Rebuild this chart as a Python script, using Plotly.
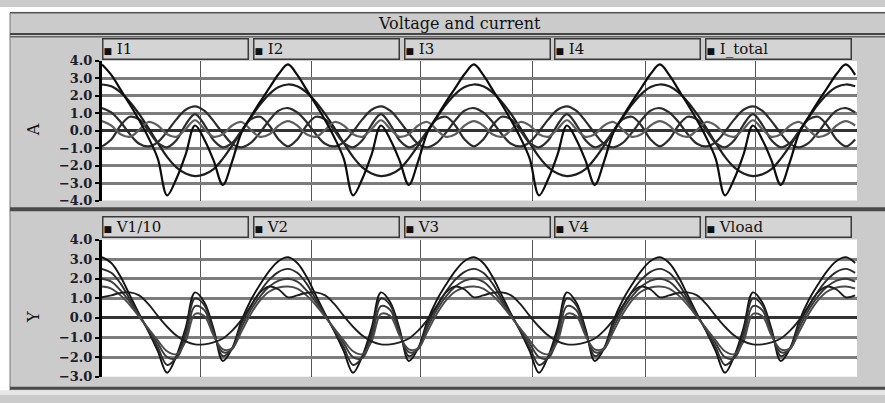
import plotly.graph_objects as go

W_PX, H_PX = 885, 403

# time axis (ms), one sample per ms
t_ms = [0, 1, 2, 3, 4, 5, 6, 7, 8, 9, 10, 11, 12, 13, 14, 15, 16, 17, 18, 19,
        20, 21, 22, 23, 24, 25, 26, 27, 28, 29, 30, 31, 32, 33, 34, 35, 36, 37, 38, 39,
        40, 41, 42, 43, 44, 45, 46, 47, 48, 49, 50, 51, 52, 53, 54, 55, 56, 57, 58, 59,
        60, 61, 62, 63, 64, 65, 66, 67, 68, 69, 70, 71, 72, 73, 74, 75, 76, 77, 78, 79,
        80, 81]

# ---- currents (A) ----
i_1 = [2.65, 2.55, 2.2, 1.65, 0.95, 0.15, -0.7, -1.5, -2.1, -2.45, -2.6, -2.5, -2.2, -1.6, -0.85, -0.05, 0.75, 1.5, 2.1, 2.5,
       2.65, 2.55, 2.2, 1.65, 0.95, 0.15, -0.7, -1.5, -2.1, -2.45, -2.6, -2.5, -2.2, -1.6, -0.85, -0.05, 0.75, 1.5, 2.1, 2.5,
       2.65, 2.55, 2.2, 1.65, 0.95, 0.15, -0.7, -1.5, -2.1, -2.45, -2.6, -2.5, -2.2, -1.6, -0.85, -0.05, 0.75, 1.5, 2.1, 2.5,
       2.65, 2.55, 2.2, 1.65, 0.95, 0.15, -0.7, -1.5, -2.1, -2.45, -2.6, -2.5, -2.2, -1.6, -0.85, -0.05, 0.75, 1.5, 2.1, 2.5,
       2.65, 2.55]
i_2 = [1.3, 1.05, 0.5, -0.2, -0.75, -0.9, -0.65, -0.05, 0.65, 1.2, 1.4, 1.15, 0.55, -0.15, -0.75, -0.95, -0.7, -0.1, 0.6, 1.15,
       1.3, 1.05, 0.5, -0.2, -0.75, -0.9, -0.65, -0.05, 0.65, 1.2, 1.4, 1.15, 0.55, -0.15, -0.75, -0.95, -0.7, -0.1, 0.6, 1.15,
       1.3, 1.05, 0.5, -0.2, -0.75, -0.9, -0.65, -0.05, 0.65, 1.2, 1.4, 1.15, 0.55, -0.15, -0.75, -0.95, -0.7, -0.1, 0.6, 1.15,
       1.3, 1.05, 0.5, -0.2, -0.75, -0.9, -0.65, -0.05, 0.65, 1.2, 1.4, 1.15, 0.55, -0.15, -0.75, -0.95, -0.7, -0.1, 0.6, 1.15,
       1.3, 1.05]
i_3 = [-0.9, -0.5, 0.3, 0.8, 0.65, 0.0, -0.7, -0.95, -0.55, 0.35, 0.95, 0.35, -0.55, -0.95, -0.7, 0.0, 0.65, 0.8, 0.3, -0.5,
       -0.9, -0.5, 0.3, 0.8, 0.65, 0.0, -0.7, -0.95, -0.55, 0.35, 0.95, 0.35, -0.55, -0.95, -0.7, 0.0, 0.65, 0.8, 0.3, -0.5,
       -0.9, -0.5, 0.3, 0.8, 0.65, 0.0, -0.7, -0.95, -0.55, 0.35, 0.95, 0.35, -0.55, -0.95, -0.7, 0.0, 0.65, 0.8, 0.3, -0.5,
       -0.9, -0.5, 0.3, 0.8, 0.65, 0.0, -0.7, -0.95, -0.55, 0.35, 0.95, 0.35, -0.55, -0.95, -0.7, 0.0, 0.65, 0.8, 0.3, -0.5,
       -0.9, -0.5]
i_4 = [0.55, 0.3, -0.2, -0.35, 0.05, 0.5, 0.3, -0.2, -0.35, 0.1, 0.6, 0.1, -0.35, -0.2, 0.3, 0.5, 0.05, -0.35, -0.2, 0.3,
       0.55, 0.3, -0.2, -0.35, 0.05, 0.5, 0.3, -0.2, -0.35, 0.1, 0.6, 0.1, -0.35, -0.2, 0.3, 0.5, 0.05, -0.35, -0.2, 0.3,
       0.55, 0.3, -0.2, -0.35, 0.05, 0.5, 0.3, -0.2, -0.35, 0.1, 0.6, 0.1, -0.35, -0.2, 0.3, 0.5, 0.05, -0.35, -0.2, 0.3,
       0.55, 0.3, -0.2, -0.35, 0.05, 0.5, 0.3, -0.2, -0.35, 0.1, 0.6, 0.1, -0.35, -0.2, 0.3, 0.5, 0.05, -0.35, -0.2, 0.3,
       0.55, 0.3]
i_total = [3.8, 3.2, 2.35, 1.5, 0.6, -0.4, -1.6, -3.7, -2.75, -1.35, 0.3, -0.5, -1.7, -3.1, -1.75, -0.1, 0.8, 1.65, 2.45, 3.25,
           3.8, 3.2, 2.35, 1.5, 0.6, -0.4, -1.6, -3.7, -2.75, -1.35, 0.3, -0.5, -1.7, -3.1, -1.75, -0.1, 0.8, 1.65, 2.45, 3.25,
           3.8, 3.2, 2.35, 1.5, 0.6, -0.4, -1.6, -3.7, -2.75, -1.35, 0.3, -0.5, -1.7, -3.1, -1.75, -0.1, 0.8, 1.65, 2.45, 3.25,
           3.8, 3.2, 2.35, 1.5, 0.6, -0.4, -1.6, -3.7, -2.75, -1.35, 0.3, -0.5, -1.7, -3.1, -1.75, -0.1, 0.8, 1.65, 2.45, 3.25,
           3.8, 3.2]

# ---- voltages ----
v_1_10 = [3.1, 2.8, 2.1, 1.15, 0.2, -0.7, -1.7, -2.8, -1.95, -0.5, 1.3, 0.8, -0.55, -2.2, -1.55, -0.15, 0.9, 1.7, 2.4, 2.9,
          3.1, 2.8, 2.1, 1.15, 0.2, -0.7, -1.7, -2.8, -1.95, -0.5, 1.3, 0.8, -0.55, -2.2, -1.55, -0.15, 0.9, 1.7, 2.4, 2.9,
          3.1, 2.8, 2.1, 1.15, 0.2, -0.7, -1.7, -2.8, -1.95, -0.5, 1.3, 0.8, -0.55, -2.2, -1.55, -0.15, 0.9, 1.7, 2.4, 2.9,
          3.1, 2.8, 2.1, 1.15, 0.2, -0.7, -1.7, -2.8, -1.95, -0.5, 1.3, 0.8, -0.55, -2.2, -1.55, -0.15, 0.9, 1.7, 2.4, 2.9,
          3.1, 2.8]
v_2 = [2.5, 2.3, 1.75, 0.95, 0.15, -0.65, -1.5, -2.4, -2.0, -0.75, 1.0, 0.65, -0.7, -1.95, -1.55, -0.3, 0.6, 1.35, 1.95, 2.35,
       2.5, 2.3, 1.75, 0.95, 0.15, -0.65, -1.5, -2.4, -2.0, -0.75, 1.0, 0.65, -0.7, -1.95, -1.55, -0.3, 0.6, 1.35, 1.95, 2.35,
       2.5, 2.3, 1.75, 0.95, 0.15, -0.65, -1.5, -2.4, -2.0, -0.75, 1.0, 0.65, -0.7, -1.95, -1.55, -0.3, 0.6, 1.35, 1.95, 2.35,
       2.5, 2.3, 1.75, 0.95, 0.15, -0.65, -1.5, -2.4, -2.0, -0.75, 1.0, 0.65, -0.7, -1.95, -1.55, -0.3, 0.6, 1.35, 1.95, 2.35,
       2.5, 2.3]
v_3 = [2.0, 1.85, 1.4, 0.8, 0.1, -0.6, -1.3, -2.0, -2.05, -1.0, 0.6, 0.4, -0.8, -1.75, -1.6, -0.5, 0.4, 1.1, 1.6, 1.9,
       2.0, 1.85, 1.4, 0.8, 0.1, -0.6, -1.3, -2.0, -2.05, -1.0, 0.6, 0.4, -0.8, -1.75, -1.6, -0.5, 0.4, 1.1, 1.6, 1.9,
       2.0, 1.85, 1.4, 0.8, 0.1, -0.6, -1.3, -2.0, -2.05, -1.0, 0.6, 0.4, -0.8, -1.75, -1.6, -0.5, 0.4, 1.1, 1.6, 1.9,
       2.0, 1.85, 1.4, 0.8, 0.1, -0.6, -1.3, -2.0, -2.05, -1.0, 0.6, 0.4, -0.8, -1.75, -1.6, -0.5, 0.4, 1.1, 1.6, 1.9,
       2.0, 1.85]
v_4 = [1.6, 1.5, 1.15, 0.65, 0.05, -0.55, -1.15, -1.7, -1.85, -1.2, 0.2, 0.1, -0.9, -1.6, -1.55, -0.7, 0.2, 0.9, 1.35, 1.55,
       1.6, 1.5, 1.15, 0.65, 0.05, -0.55, -1.15, -1.7, -1.85, -1.2, 0.2, 0.1, -0.9, -1.6, -1.55, -0.7, 0.2, 0.9, 1.35, 1.55,
       1.6, 1.5, 1.15, 0.65, 0.05, -0.55, -1.15, -1.7, -1.85, -1.2, 0.2, 0.1, -0.9, -1.6, -1.55, -0.7, 0.2, 0.9, 1.35, 1.55,
       1.6, 1.5, 1.15, 0.65, 0.05, -0.55, -1.15, -1.7, -1.85, -1.2, 0.2, 0.1, -0.9, -1.6, -1.55, -0.7, 0.2, 0.9, 1.35, 1.55,
       1.6, 1.5]
v_load = [1.05, 1.15, 1.28, 1.3, 1.15, 0.7, 0.1, -0.45, -0.9, -1.2, -1.35, -1.35, -1.25, -1.05, -0.65, -0.1, 0.6, 1.3, 1.6, 1.45,
          1.05, 1.15, 1.28, 1.3, 1.15, 0.7, 0.1, -0.45, -0.9, -1.2, -1.35, -1.35, -1.25, -1.05, -0.65, -0.1, 0.6, 1.3, 1.6, 1.45,
          1.05, 1.15, 1.28, 1.3, 1.15, 0.7, 0.1, -0.45, -0.9, -1.2, -1.35, -1.35, -1.25, -1.05, -0.65, -0.1, 0.6, 1.3, 1.6, 1.45,
          1.05, 1.15, 1.28, 1.3, 1.15, 0.7, 0.1, -0.45, -0.9, -1.2, -1.35, -1.35, -1.25, -1.05, -0.65, -0.1, 0.6, 1.3, 1.6, 1.45,
          1.05, 1.15]

current_names = ["I1", "I2", "I3", "I4", "I_total"]
voltage_names = ["V1/10", "V2", "V3", "V4", "Vload"]
current_series = [i_1, i_2, i_3, i_4, i_total]
voltage_series = [v_1_10, v_2, v_3, v_4, v_load]
current_ticks = [-4, -3, -2, -1, 0, 1, 2, 3, 4]
voltage_ticks = [-3, -2, -1, 0, 1, 2, 3, 4]
x_grid = [10.6, 22.5, 34.3, 46.3, 58.4, 70.3]
title_text = "Voltage and current"

# ---- styling ----
FONT = "DejaVu Serif"
line_colors_top = ["#1e1e1e", "#2c2c2c", "#2c2c2c", "#5e5e5e", "#0d0d0d"]
line_colors_bot = ["#141414", "#2c2c2c", "#3a3a3a", "#4a4a4a", "#1e1e1e"]


def X(px):
    return px / W_PX


def Y(py):
    return 1 - py / H_PX


fig = go.Figure()
for name, ys, col in zip(current_names, current_series, line_colors_top):
    fig.add_trace(go.Scatter(x=t_ms, y=ys, name=name, mode="lines",
                             line=dict(color=col, width=2.2, shape="spline", smoothing=1),
                             xaxis="x", yaxis="y", showlegend=False))
for name, ys, col in zip(voltage_names, voltage_series, line_colors_bot):
    fig.add_trace(go.Scatter(x=t_ms, y=ys, name=name, mode="lines",
                             line=dict(color=col, width=1.9, shape="spline", smoothing=1),
                             xaxis="x2", yaxis="y2", showlegend=False))

xdom = [X(102), X(857)]
xcommon = dict(range=[0, 81.2], domain=xdom, tickvals=x_grid, showticklabels=False,
               ticks="", showgrid=True, gridcolor="#555555", gridwidth=1.2,
               zeroline=False, showline=False, fixedrange=True)
ycommon = dict(showgrid=True, gridcolor="#7c7c7c", gridwidth=2.5,
               zeroline=True, zerolinecolor="#333333", zerolinewidth=2.5,
               showline=True, linecolor="#000000", linewidth=3,
               ticks="outside", ticklen=4, tickwidth=2, tickcolor="#000000",
               tickformat=".1f",
               tickfont=dict(family=FONT, size=13, color="#1c1c2a", weight="bold"))

shapes = [
    # white outer strips
    dict(type="rect", xref="paper", yref="paper", x0=0, x1=X(10), y0=0, y1=1,
         fillcolor="white", line=dict(width=0), layer="below"),
    dict(type="rect", xref="paper", yref="paper", x0=0, x1=1, y0=Y(5), y1=1,
         fillcolor="white", line=dict(width=0), layer="below"),
    dict(type="rect", xref="paper", yref="paper", x0=0, x1=1, y0=0, y1=Y(398),
         fillcolor="#e6e6e6", line=dict(width=0), layer="below"),
    # frame lines
    dict(type="line", xref="paper", yref="paper", x0=X(10), x1=1, y0=Y(6), y1=Y(6),
         line=dict(color="#555555", width=1.5)),
    dict(type="line", xref="paper", yref="paper", x0=X(10), x1=X(10), y0=Y(398), y1=Y(6),
         line=dict(color="#777777", width=1)),
    dict(type="line", xref="paper", yref="paper", x0=X(10), x1=1, y0=Y(28), y1=Y(28),
         line=dict(color="#444444", width=2)),
    dict(type="line", xref="paper", yref="paper", x0=X(10), x1=1, y0=Y(31), y1=Y(31),
         line=dict(color="#666666", width=1.5)),
    dict(type="line", xref="paper", yref="paper", x0=X(10), x1=1, y0=Y(210), y1=Y(210),
         line=dict(color="#4a4a4a", width=4)),
    dict(type="line", xref="paper", yref="paper", x0=X(10), x1=1, y0=Y(396), y1=Y(396),
         line=dict(color="#4a4a4a", width=3)),
]

annotations = [
    dict(text=title_text, xref="paper", yref="paper", x=X(459), y=Y(17),
         xanchor="center", yanchor="middle", showarrow=False,
         font=dict(family=FONT, size=16, color="#111111")),
    dict(text="A", xref="paper", yref="paper", x=X(33), y=Y(128), textangle=-90,
         xanchor="center", yanchor="middle", showarrow=False,
         font=dict(family=FONT, size=16, color="#111111")),
    dict(text="Y", xref="paper", yref="paper", x=X(33), y=Y(322), textangle=-90,
         xanchor="center", yanchor="middle", showarrow=False,
         font=dict(family=FONT, size=16, color="#111111")),
]

box_left = [102, 253, 404, 554, 705]
for names, top in ((current_names, 32), (voltage_names, 217)):
    for nm, bl in zip(names, box_left):
        annotations.append(dict(
            text="<span style='font-size:9px'>■</span> " + nm,
            xref="paper", yref="paper", x=X(bl), y=Y(top), xanchor="left", yanchor="top",
            showarrow=False, align="left", valign="top", width=144, height=19, borderpad=0,
            bgcolor="#d4d4d4", bordercolor="#3a3a3a", borderwidth=1.5,
            font=dict(family=FONT, size=15, color="#111111")))

fig.update_layout(
    width=W_PX, height=H_PX, margin=dict(l=0, r=0, t=0, b=0),
    paper_bgcolor="#cbcbcb", plot_bgcolor="white",
    xaxis=dict(**xcommon, anchor="y"),
    xaxis2=dict(**xcommon, anchor="y2"),
    yaxis=dict(**ycommon, range=[-4, 4], tickvals=current_ticks,
               domain=[Y(201), Y(56)], anchor="x"),
    yaxis2=dict(**ycommon, range=[-3, 4], tickvals=voltage_ticks,
                domain=[Y(384), Y(241.5)], anchor="x2"),
    shapes=shapes, annotations=annotations,
)

fig.write_html("out.html")
